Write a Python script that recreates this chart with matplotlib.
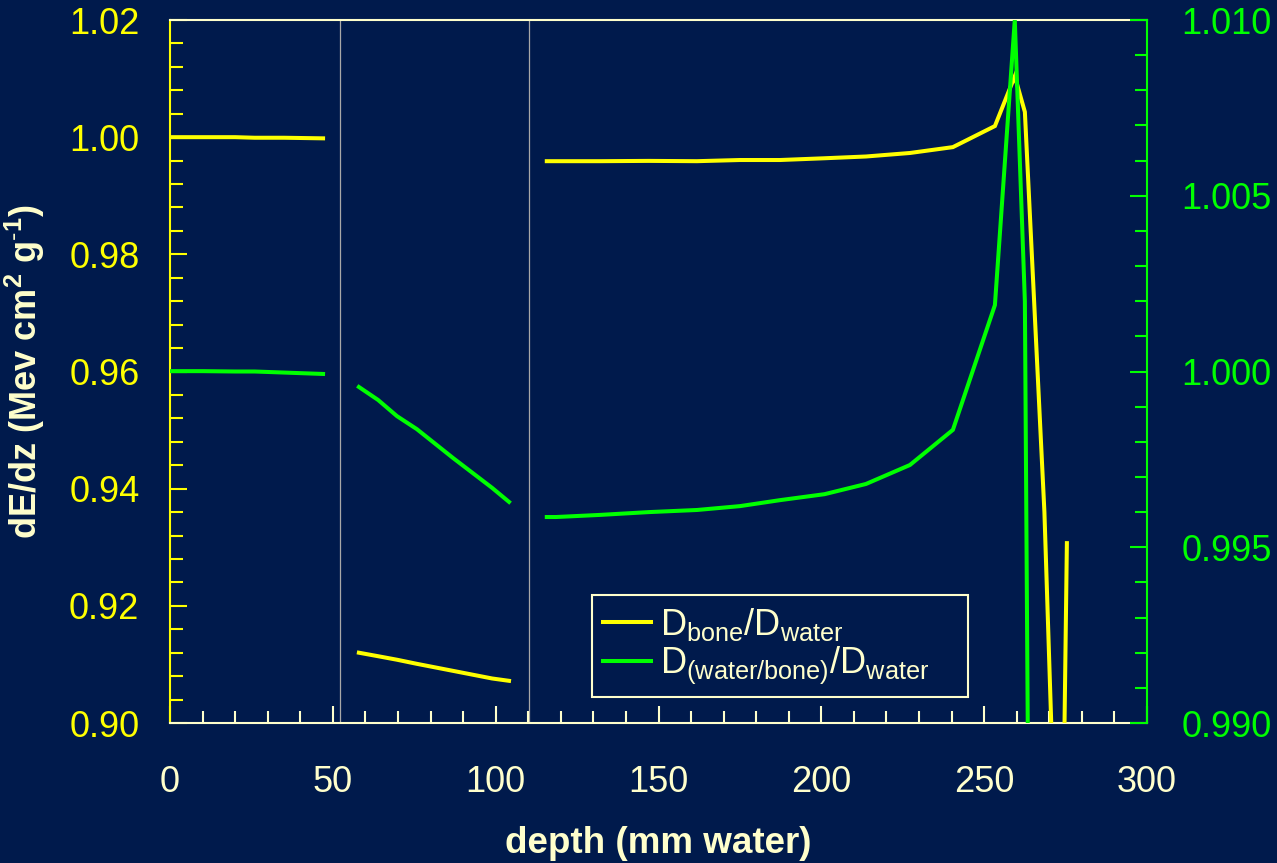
import matplotlib
matplotlib.use('Agg')
import matplotlib.pyplot as plt
from matplotlib.ticker import MultipleLocator, FormatStrFormatter
from matplotlib.lines import Line2D
import numpy as np

plt.rcParams['font.family'] = ['Liberation Sans', 'DejaVu Sans']
plt.rcParams['mathtext.fontset'] = 'custom'
plt.rcParams['mathtext.rm'] = 'Liberation Sans'
plt.rcParams['mathtext.it'] = 'Liberation Sans:italic'
plt.rcParams['mathtext.bf'] = 'Liberation Sans:bold'

BG = '#001a4c'
CREAM = '#ffffcc'
YELLOW = '#ffff00'
GREEN = '#00ff00'

# --- data: three depth segments (mm water) ---
depth_1 = [0, 10, 20, 26, 35, 47]
bone_1 = [1.0000, 1.0000, 1.0000, 0.9999, 0.9999, 0.9998]
wb_1 = [1.00001, 1.00001, 1.0000, 1.0000, 0.99997, 0.99993]

depth_2 = [58.0, 63.9, 69.7, 75.8, 86.9, 98.9, 104.1]
bone_2 = [0.9120, 0.9114, 0.9108, 0.9101, 0.9089, 0.9076, 0.9072]
wb_2 = [0.99956, 0.99919, 0.99873, 0.99836, 0.99754, 0.99669, 0.99629]

depth_3 = [115.7, 118.5, 132, 147, 161.8, 175, 187.3, 201, 213.7,
           227.2, 240.4, 253.3, 259.4, 262.5, 268.5, 273.5, 275.4]
bone_3 = [0.9959, 0.9959, 0.9959, 0.99595, 0.9959, 0.9961, 0.9961, 0.9964, 0.9967,
          0.9973, 0.9983, 1.0019, 1.0104, 1.0043, 0.936, 0.85, 0.9307]
wb_3 = [0.99586, 0.99586, 0.99592, 0.99600, 0.99606, 0.99617, 0.99634, 0.99651, 0.99680,
        0.99734, 0.99834, 1.00189, 1.0100, 1.0020, 0.92, np.nan, np.nan]

boundaries = [52.2, 110.2]

fig = plt.figure(figsize=(12.77, 8.63), dpi=100, facecolor=BG)
ax = fig.add_axes([170 / 1277, 1 - 723 / 863, 977 / 1277, 703 / 863])
ax.set_facecolor(BG)
ax2 = ax.twinx()

for x in boundaries:
    ax.axvline(x, color='#a8a8a8', lw=0.9, zorder=1)

for d, b in [(depth_1, bone_1), (depth_2, bone_2), (depth_3, bone_3)]:
    ax.plot(d, b, color=YELLOW, lw=2.9, solid_joinstyle='miter', zorder=3)
for d, w in [(depth_1, wb_1), (depth_2, wb_2), (depth_3, wb_3)]:
    ax2.plot(d, w, color=GREEN, lw=2.9, solid_joinstyle='miter', zorder=3)

ax.set_xlim(0, 300)
ax.set_ylim(0.90, 1.02)
ax2.set_ylim(0.990, 1.010)

ax.xaxis.set_major_locator(MultipleLocator(50))
ax.xaxis.set_minor_locator(MultipleLocator(10))
ax.yaxis.set_major_locator(MultipleLocator(0.02))
ax.yaxis.set_minor_locator(MultipleLocator(0.004))
ax.yaxis.set_major_formatter(FormatStrFormatter('%.2f'))
ax2.yaxis.set_major_locator(MultipleLocator(0.005))
ax2.yaxis.set_minor_locator(MultipleLocator(0.001))
ax2.yaxis.set_major_formatter(FormatStrFormatter('%.3f'))

ax.tick_params(axis='x', which='both', direction='in', colors=CREAM, width=1.5,
               labelsize=26, pad=30, top=False)
ax.tick_params(axis='x', which='major', length=12)
ax.tick_params(axis='x', which='minor', length=9)
ax.tick_params(axis='y', which='both', direction='in', colors=YELLOW, width=1.5,
               labelsize=26, pad=22)
ax.tick_params(axis='y', which='major', length=12)
ax.tick_params(axis='y', which='minor', length=9)
ax2.tick_params(axis='y', which='both', direction='in', colors=GREEN, width=1.5,
                labelsize=26, pad=25)
ax2.tick_params(axis='y', which='major', length=12)
ax2.tick_params(axis='y', which='minor', length=9)

ax.spines['left'].set_color(YELLOW)
ax.spines['bottom'].set_color(CREAM)
ax.spines['top'].set_color(CREAM)
ax.spines['right'].set_visible(False)
for s in ['left', 'top', 'bottom']:
    ax2.spines[s].set_visible(False)
ax2.spines['right'].set_color(GREEN)
for sp in list(ax.spines.values()) + [ax2.spines['right']]:
    sp.set_linewidth(1.5)

ax.set_xlabel('depth (mm water)', color=CREAM, fontsize=26.5, fontweight='bold', labelpad=19)
ax.set_ylabel(r'dE/dz (Mev cm$^\mathbf{2}$ g$^{\text{-}\mathbf{1}}$)', color=CREAM,
              fontsize=26, fontweight='bold', labelpad=16)

handles = [Line2D([], [], color=YELLOW, lw=2.9), Line2D([], [], color=GREEN, lw=2.9)]
labels = [r'D$_\mathrm{bone}$/D$_\mathrm{water}$',
          r'D$_\mathrm{(water/bone)}$/D$_\mathrm{water}$']
leg = ax2.legend(handles, labels, loc='lower left',
                 bbox_to_anchor=(0.432, 0.037, 0.385, 0.1465), mode='expand',
                 borderaxespad=0, fontsize=26, frameon=True, fancybox=False,
                 facecolor=BG, edgecolor=CREAM, framealpha=1, handlelength=1.33,
                 handletextpad=0.25, borderpad=0.3, labelspacing=0.05)
leg.get_frame().set_linewidth(1.5)
for t in leg.get_texts():
    t.set_color(CREAM)

fig.savefig('out.png', dpi=100, facecolor=BG)
